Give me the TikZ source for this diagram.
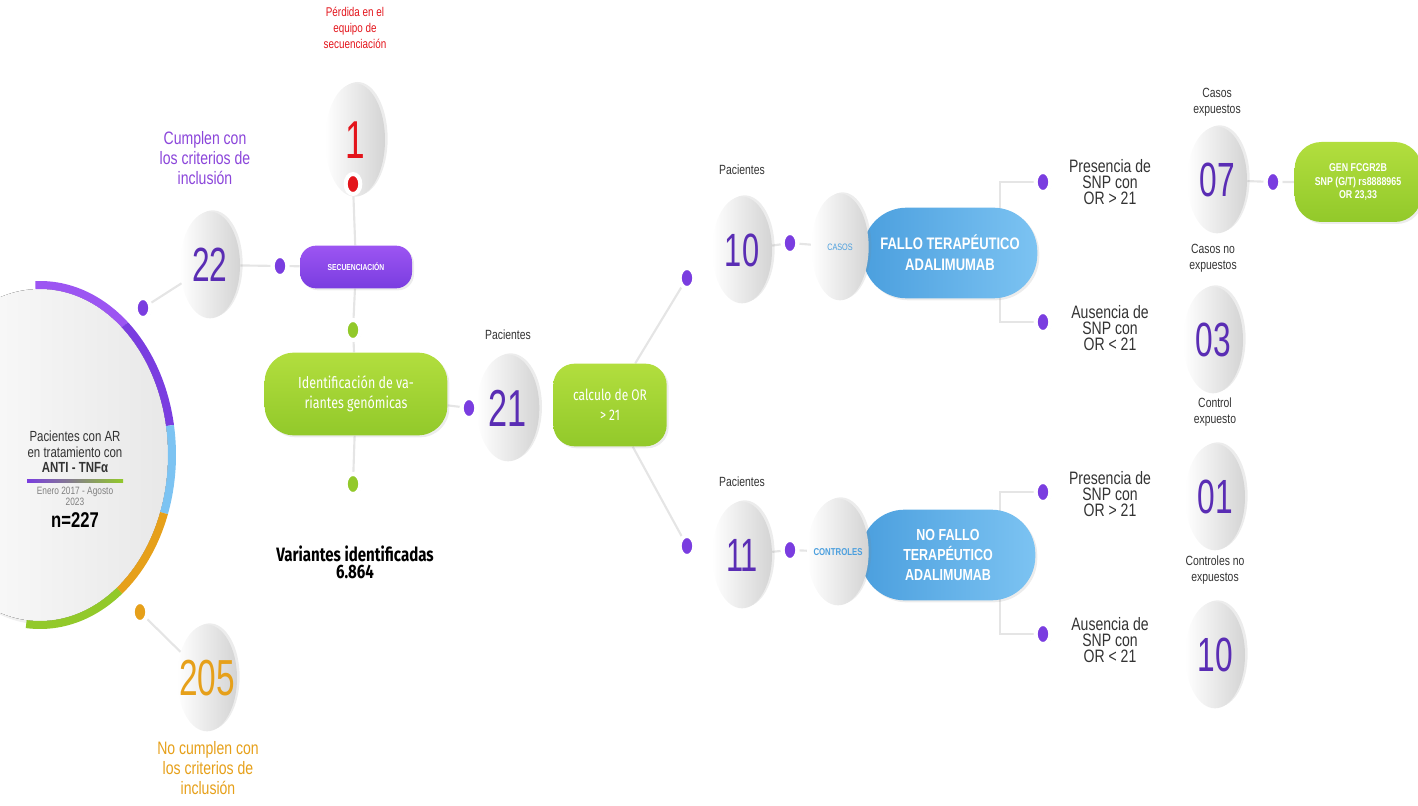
\documentclass[tikz,border=0pt]{standalone}
\usepackage{fontspec}
\setmainfont{Liberation Sans}[FakeStretch=0.78]
\newfontfamily\firafont{Fira Sans}[FakeStretch=0.78]
\newfontfamily\numfont{Liberation Sans}[FakeStretch=0.66]
\usetikzlibrary{positioning,shapes.geometric,shadows,backgrounds}

\definecolor{violeta}{HTML}{7A3DE0}
\definecolor{violetaclaro}{HTML}{9C55F2}
\definecolor{numvioleta}{HTML}{5A2DB4}
\definecolor{lila}{HTML}{8B45DA}
\definecolor{verde}{HTML}{92C92A}
\definecolor{verdeclaro}{HTML}{B2DE3E}
\definecolor{azul}{HTML}{4B9FDE}
\definecolor{azulclaro}{HTML}{7CC3F2}
\definecolor{naranja}{HTML}{E6A01A}
\definecolor{rojo}{HTML}{E3141B}
\definecolor{gristexto}{HTML}{333333}

\begin{document}
\begin{tikzpicture}[x=0.75pt,y=-0.75pt,on grid,
    bubble/.style={ellipse,inner sep=0pt,minimum width=45pt,minimum height=80pt,
        left color=white,right color=black!17,
        drop shadow={opacity=.15,shadow xshift=2pt,shadow yshift=1pt}},
    num/.style={font=\numfont\fontsize{36}{36}\selectfont,text=numvioleta},
    knob/.style={ellipse,inner sep=0pt,minimum width=11pt,minimum height=15pt,
        fill=#1,draw=white,line width=3pt,
        drop shadow={opacity=.25,shadow xshift=1pt,shadow yshift=-.5pt}},
    knob/.default=violeta,
    pillbox/.style={rounded corners=#1,align=center,text=white,inner sep=2pt,
        drop shadow={opacity=.15,shadow xshift=1.5pt,shadow yshift=-1.5pt}},
    link/.style={draw=black!10,line width=1.6pt},
    txt/.style={align=center,text=gristexto,font=\fontsize{13.5}{12}\selectfont},
    small/.style={align=center,text=gristexto,font=\fontsize{10}{12}\selectfont}]
    \useasboundingbox (0,0) rectangle (1418,806);

    \fill[left color=white,right color=black!9,drop shadow={opacity=.12}] (40,455) ellipse [x radius=128,y radius=166];
    \begin{scope}[line width=6pt]
        \draw[violetaclaro] (40,455) ++(-92:132 and 170) arc[start angle=-92,end angle=-50,x radius=132,y radius=170];
        \draw[violeta] (40,455) ++(-50:132 and 170) arc[start angle=-50,end angle=-10,x radius=132,y radius=170];
        \draw[azulclaro] (40,455) ++(-10:132 and 170) arc[start angle=-10,end angle=20,x radius=132,y radius=170];
        \draw[naranja] (40,455) ++(20:132 and 170) arc[start angle=20,end angle=53,x radius=132,y radius=170];
        \draw[verde] (40,455) ++(53:132 and 170) arc[start angle=53,end angle=96,x radius=132,y radius=170];
    \end{scope}
    \node[align=center,text=gristexto,font=\fontsize{11}{11.5}\selectfont] (ncohorte) at (75,452) {Pacientes con AR\\en tratamiento con\\\textbf{ANTI - TNFα}};
    \shade[left color=violeta,middle color=azul,right color=verde] (27,479) rectangle (123,482);
    \node[align=center,text=black!50,font=\fontsize{8}{8.5}\selectfont] (nfecha) at (75,496) {Enero 2017 - Agosto\\2023};
    \node[font=\bfseries\fontsize{16}{16}\selectfont] (ntotal) at (75,520) {n=227};

    \node[bubble,label={[num]center:22}] (n22) at (210,265) {};
    \node[knob] (d0) at (143,308) {};
    \node[knob] (d22) at (280,266) {};
    \node[txt,text=lila,font=\fontsize{13.5}{15}\selectfont] (lcumplen) at (205,158) {Cumplen con\\los criterios de\\inclusión};
    \node[pillbox=12pt,top color=violetaclaro,bottom color=violeta,minimum width=84pt,minimum height=32pt,
        font=\bfseries\fontsize{6.5}{7}\selectfont] (nsec) at (356,267) {SECUENCIACIÓN};
    \node[bubble,minimum height=85pt,label={[num,text=rojo,font=\numfont\fontsize{40}{40}\selectfont]center:1}] (n1) at (355,140) {};
    \node[knob=rojo] (dr) at (353,184) {};
    \node[small,text=rojo,font=\fontsize{9.5}{12}\selectfont] (lperdida) at (355,28) {Pérdida en el\\equipo de\\secuenciación};
    \node[knob=verde] (dg1) at (353,330) {};
    \node[pillbox=22pt,top color=verdeclaro,bottom color=verde,minimum width=137pt,minimum height=62pt,
        font=\firafont\fontsize{12}{15}\selectfont] (nident) at (356,394) {Identificación de va-\\riantes genómicas};
    \node[knob=verde] (dg2) at (353,484) {};
    \node[align=center,font=\firafont\bfseries\fontsize{14.5}{13}\selectfont] (lvariantes) at (355,562) {Variantes identificadas\\6.864};

    \node[bubble,minimum width=47pt,label={[num,font=\numfont\fontsize{39}{39}\selectfont]center:21}] (n21) at (508,408) {};
    \node[knob] (d21) at (469,408) {};
    \node[small,above=55pt of n21] (lpac21) {Pacientes};
    \node[pillbox=16pt,top color=verdeclaro,bottom color=verde,minimum width=85pt,minimum height=62pt,
        font=\firafont\fontsize{11.5}{15}\selectfont] (ncalc) at (610,405) {calculo de OR\\> 21};

    \node[knob] (dup) at (687,278) {};
    \node[knob] (ddown) at (687,546) {};
    \node[bubble,label={[num,font=\numfont\fontsize{35}{35}\selectfont]center:10}] (n10) at (742,250) {};
    \node[small,above=60pt of n10] (lpac10) {Pacientes};
    \node[knob] (dc10) at (790,243) {};
    \node[pillbox=33pt,left color=azul,right color=azulclaro,minimum width=131pt,minimum height=68pt,
        font=\bfseries\fontsize{12.5}{16}\selectfont] (nfallo) at (950,253) {FALLO TERAPÉUTICO\\ADALIMUMAB};
    \node[bubble,minimum width=43pt,label={[text=azul,font=\fontsize{7}{7}\selectfont]center:CASOS}] (ncasos) at (840,247) {};

    \node[bubble,label={[num,font=\numfont\fontsize{35}{35}\selectfont]center:11}] (n11) at (742,555) {};
    \node[small,above=55pt of n11] (lpac11) {Pacientes};
    \node[knob] (dc11) at (790,550) {};
    \node[pillbox=33pt,left color=azul,right color=azulclaro,minimum width=131pt,minimum height=68pt,
        font=\bfseries\fontsize{12}{15}\selectfont] (nnofallo) at (948,555) {NO FALLO\\TERAPÉUTICO\\ADALIMUMAB};
    \node[bubble,minimum width=46pt,label={[text=azul,font=\bfseries\fontsize{7.5}{7}\selectfont]center:CONTROLES}] (ncontroles) at (838,552) {};

    \node[knob] (p1) at (1043,182) {};
    \node[knob] (a1) at (1043,322) {};
    \node[knob] (p2) at (1043,492) {};
    \node[knob] (a2) at (1043,634) {};
    \node[txt] (tpres1) at (1110,182) {Presencia de\\SNP con\\OR > 21};
    \node[txt] (taus1) at (1110,328) {Ausencia de\\SNP con\\OR < 21};
    \node[txt] (tpres2) at (1110,494) {Presencia de\\SNP con\\OR > 21};
    \node[txt] (taus2) at (1110,640) {Ausencia de\\SNP con\\OR < 21};

    \node[bubble,label={[num]center:07}] (n07) at (1217,180) {};
    \node[small,above=58pt of n07] (l07) {Casos\\expuestos};
    \node[bubble,label={[num]center:03}] (n03) at (1213,340) {};
    \node[small,above=61pt of n03] (l03) {Casos no\\expuestos};
    \node[bubble,label={[num]center:01}] (n01) at (1215,497) {};
    \node[small,above=64pt of n01] (l01) {Control\\expuesto};
    \node[bubble,label={[num]center:10}] (n10b) at (1215,655) {};
    \node[small,above=64pt of n10b] (l10b) {Controles no\\expuestos};
    \node[knob] (d07) at (1273,182) {};
    \node[pillbox=20pt,top color=verdeclaro,bottom color=verde,minimum width=95pt,minimum height=60pt,
        font=\bfseries\fontsize{8.5}{10}\selectfont] (ngen) at (1358,182) {GEN FCGR2B\\SNP (G/T) rs8888965\\OR 23,33};

    \node[knob=naranja] (d205) at (140,612) {};
    \node[bubble,label={[num,text=naranja,font=\numfont\fontsize{38}{38}\selectfont]center:205}] (n205) at (207,678) {};
    \node[txt,text=naranja,font=\fontsize{13.5}{15}\selectfont] (lnocumplen) at (208,768) {No cumplen con\\los criterios de\\inclusión};

    \begin{scope}[on background layer]
        \draw[link] (d0) -- (n22);
        \draw[link] (n22) -- (d22) -- (nsec);
        \draw[link] (dr) -- (nsec) -- (dg1) -- (nident) -- (dg2);
        \draw[link] (nident) -- (d21);
        \draw[link] (ncalc) -- (dup);
        \draw[link] (ncalc) -- (ddown);
        \draw[link] (n10) -- (dc10) -- (ncasos);
        \draw[link] (n11) -- (dc11) -- (ncontroles);
        \draw[link] (p1) -- ++(-43,0) |- (a1);
        \draw[link] (p2) -- ++(-43,0) |- (a2);
        \draw[link] (n07) -- (d07) -- (ngen);
        \draw[link] (d205) -- (n205);
    \end{scope}
\end{tikzpicture}
\end{document}
